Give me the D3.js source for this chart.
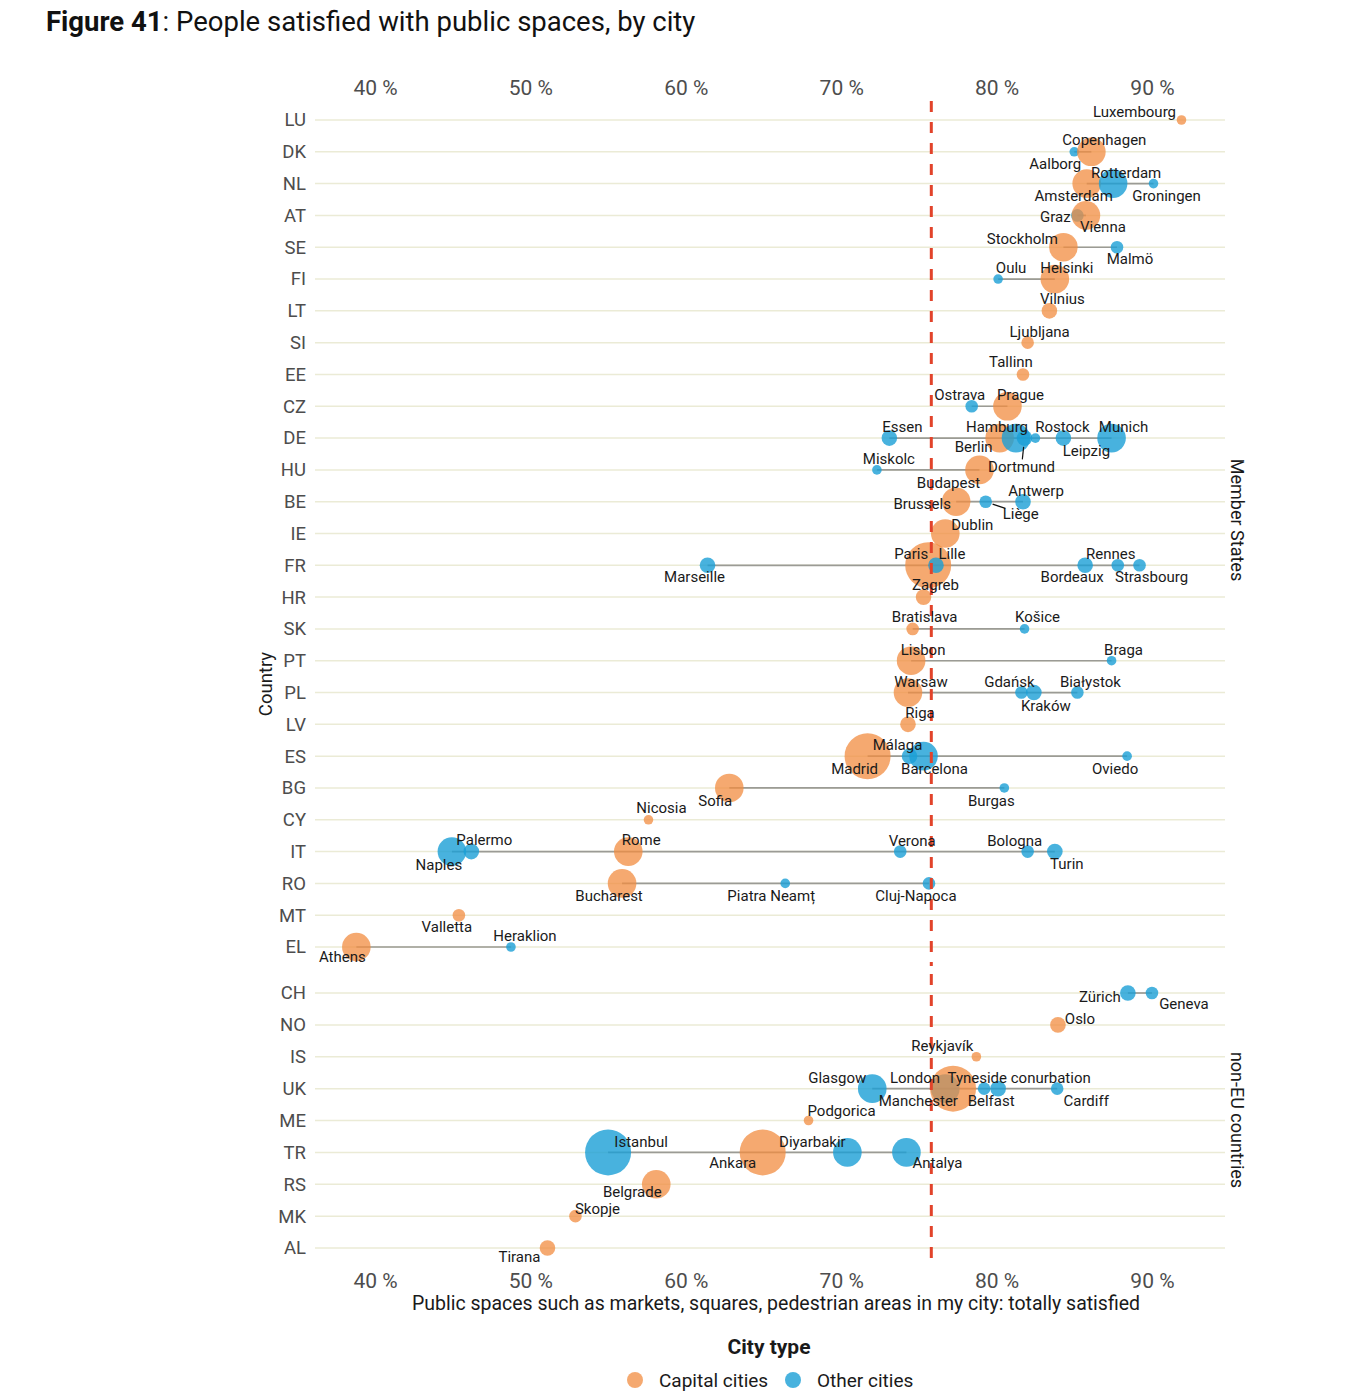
<!DOCTYPE html>
<html><head><meta charset="utf-8">
<script src="https://cdn.jsdelivr.net/npm/d3@7"></script>
<style>
body{margin:0;background:#fff;}
svg{display:block;font-family:Roboto,"Noto Sans",sans-serif;}
</style>
</head><body>
<svg id="chart" width="1368" height="1400"></svg>
<script>
// ---------------- DATA ----------------
const memberStates = ["LU","DK","NL","AT","SE","FI","LT","SI","EE","CZ","DE","HU","BE","IE","FR","HR","SK","PT","PL","LV","ES","BG","CY","IT","RO","MT","EL"];
const nonEuCountries = ["CH","NO","IS","UK","ME","TR","RS","MK","AL"];
const xTicks = [40,50,60,70,80,90];
const referenceValue = 75.8;
const cityTypes = ["Capital cities","Other cities"];

const cityNames = ["Luxembourg","Copenhagen","Aalborg","Amsterdam","Rotterdam","Groningen","Vienna","Graz","Stockholm","Malmö","Helsinki","Oulu","Vilnius","Ljubljana","Tallinn","Prague","Ostrava","Berlin","Essen","Hamburg","Dortmund","Rostock","Leipzig","Munich","Budapest","Miskolc","Brussels","Liège","Antwerp","Dublin","Paris","Lille","Marseille","Bordeaux","Rennes","Strasbourg","Zagreb","Bratislava","Košice","Lisbon","Braga","Warsaw","Gdańsk","Kraków","Białystok","Riga","Madrid","Málaga","Barcelona","Oviedo","Sofia","Burgas","Nicosia","Rome","Naples","Palermo","Verona","Bologna","Turin","Bucharest","Piatra Neamț","Cluj-Napoca","Valletta","Athens","Heraklion","Zürich","Geneva","Oslo","Reykjavík","London","Glasgow","Manchester","Belfast","Tyneside conurbation","Cardiff","Podgorica","Ankara","Istanbul","Diyarbakir","Antalya","Belgrade","Skopje","Tirana"];
const cityCountry = ["LU","DK","DK","NL","NL","NL","AT","AT","SE","SE","FI","FI","LT","SI","EE","CZ","CZ","DE","DE","DE","DE","DE","DE","DE","HU","HU","BE","BE","BE","IE","FR","FR","FR","FR","FR","FR","HR","SK","SK","PT","PT","PL","PL","PL","PL","LV","ES","ES","ES","ES","BG","BG","CY","IT","IT","IT","IT","IT","IT","RO","RO","RO","MT","EL","EL","CH","CH","NO","IS","UK","UK","UK","UK","UK","UK","ME","TR","TR","TR","TR","RS","MK","AL"];
const cityIsCapital = [1,1,0,1,0,0,1,0,1,0,1,0,1,1,1,1,0,1,0,0,0,0,0,0,1,0,1,0,0,1,1,0,0,0,0,0,1,1,0,1,0,1,0,0,0,1,1,0,0,0,1,0,1,1,0,0,0,0,0,1,0,0,1,1,0,0,0,1,1,1,0,0,0,0,0,1,1,0,0,0,1,1,1];
const citySatisfied = [91.9,86.1,85.0,85.8,87.5,90.1,85.75,85.2,84.3,87.75,83.75,80.1,83.4,82.0,81.7,80.7,78.4,80.2,73.1,81.25,81.8,82.5,84.3,87.4,78.9,72.3,77.4,79.3,81.7,76.7,75.6,76.1,61.4,85.7,87.8,89.2,75.3,74.6,81.8,74.5,87.4,74.3,81.6,82.4,85.2,74.3,71.7,74.4,75.3,88.4,62.8,80.5,57.6,56.3,44.95,46.2,73.8,82.0,83.75,55.9,66.4,75.65,45.4,38.8,48.75,88.45,90.0,83.95,78.7,77.2,72.0,76.7,79.2,80.1,83.9,67.9,64.95,55.0,70.4,74.2,58.1,52.9,51.1];
// city size class (1 = smallest ... 5 = largest)
const citySizeClass = [1,4,1,4,4,1,4,2,4,2,4,1,3,2,2,4,2,4,3,4,3,1,3,4,4,1,4,2,3,4,5,3,3,3,2,2,3,2,1,4,1,4,2,3,2,3,5,3,4,1,4,1,1,4,4,3,2,2,3,4,1,2,2,4,1,3,2,3,1,5,4,4,2,3,2,1,5,5,4,4,4,2,3];

// ---------------- LAYOUT (label placement nudges, px) ----------------
const labelNudge = {
 "Luxembourg":[-47,-8],"Copenhagen":[13,-12],"Aalborg":[-19,12],"Rotterdam":[13,-11],"Amsterdam":[-13,12],"Groningen":[13,12],
 "Graz":[-22,2],"Vienna":[17,12],"Stockholm":[-41,-8],"Malmö":[13,12],"Oulu":[13,-11],"Helsinki":[12,-11],"Vilnius":[13,-12],
 "Ljubljana":[12,-11],"Tallinn":[-12,-12],"Ostrava":[-12,-11],"Prague":[13,-11],"Essen":[13,-11],"Hamburg":[-19,-11],
 "Rostock":[27,-11],"Munich":[12,-11],"Berlin":[-26,9],"Leipzig":[23,13],"Dortmund":[-3,29],"Miskolc":[12,-11],
 "Budapest":[-31,13],"Brussels":[-34,2],"Antwerp":[13,-11],"Liège":[35,12],"Dublin":[27,-9],"Paris":[-17,-11],"Lille":[16,-11],
 "Marseille":[-13,12],"Bordeaux":[-13,12],"Rennes":[-7,-11],"Strasbourg":[12,12],"Zagreb":[12,-12],"Bratislava":[12,-12],
 "Košice":[13,-12],"Lisbon":[12,-11],"Braga":[12,-11],"Warsaw":[13,-11],"Gdańsk":[-12,-11],"Białystok":[13,-11],"Kraków":[12,13],
 "Riga":[12,-11],"Málaga":[-12,-11],"Madrid":[-13,13],"Barcelona":[11,13],"Oviedo":[-12,13],"Burgas":[-13,13],"Sofia":[-14,13],
 "Nicosia":[13,-12],"Palermo":[13,-12],"Naples":[-13,13],"Rome":[13,-12],"Bucharest":[-13,13],"Piatra Neamț":[-14,13],
 "Cluj-Napoca":[-13,13],"Verona":[12,-11],"Bologna":[-13,-11],"Turin":[12,12],"Valletta":[-12,12],"Heraklion":[14,-11],
 "Athens":[-14,10],"Zürich":[-28,4],"Geneva":[32,11],"Oslo":[22,-6],"Reykjavík":[-34,-11],"Glasgow":[-35,-11],"London":[-38,-11],
 "Tyneside conurbation":[21,-11],"Manchester":[-27,12],"Belfast":[7,12],"Cardiff":[29,12],"Podgorica":[33,-10],"Istanbul":[33,-10],
 "Ankara":[-30,11],"Diyarbakir":[-35,-10],"Antalya":[31,11],"Belgrade":[-24,8],"Skopje":[22,-7],"Tirana":[-28,9]
};
const leaderLabels = ["Dortmund","Liège"];

// ---------------- CHART ----------------
const svg = d3.select("#chart");
const cities = cityNames.map((n,i)=>({name:n,country:cityCountry[i],type:cityIsCapital[i]?cityTypes[0]:cityTypes[1],value:citySatisfied[i],size:citySizeClass[i]}));

const x = d3.scaleLinear().domain([36.14,94.7]).range([315,1225]);
const r = d3.scaleOrdinal().domain([1,2,3,4,5]).range([4.8,6.3,7.8,14.3,23]);
const color = d3.scaleOrdinal().domain(cityTypes).range(["#f28c40","#1a9fd6"]);
const opacity = d3.scaleOrdinal().domain(cityTypes).range([0.75,0.8]);

const panels = [
 {label:"Member States", cats:memberStates, top:101, bottom:966, first:120, last:947, stripY:520},
 {label:"non-EU countries", cats:nonEuCountries, top:974, bottom:1267, first:993, last:1248, stripY:1120}
];
panels.forEach(p=>{ p.y = d3.scalePoint().domain(p.cats).range([p.first,p.last]); });
const yOf = {};
panels.forEach(p=>p.cats.forEach(c=>yOf[c]=p.y(c)));

// Title
const title = svg.append("text").attr("x",46).attr("y",31).attr("font-size",27.5).attr("fill","#111");
title.append("tspan").attr("font-weight","bold").text("Figure 41");
title.append("tspan").text(": People satisfied with public spaces, by city");

// Panels: grid + y axis + strip labels
panels.forEach(p=>{
  const g = svg.append("g");
  g.selectAll("line.grid").data(p.cats).join("line")
    .attr("x1",x.range()[0]).attr("x2",x.range()[1])
    .attr("y1",d=>p.y(d)).attr("y2",d=>p.y(d))
    .attr("stroke","#ebebd6").attr("stroke-width",1.5);
  const ax = svg.append("g").attr("transform","translate(315,0)")
    .call(d3.axisLeft(p.y).tickSize(0).tickPadding(9));
  ax.select(".domain").remove();
  ax.selectAll("text").attr("font-size",18.5).attr("fill","#4d4d4d").style("font-family","Roboto");
  svg.append("text").attr("transform",`translate(1237,${p.stripY}) rotate(90)`)
    .attr("text-anchor","middle").attr("dominant-baseline","central")
    .attr("font-size",18).attr("fill","#1a1a1a").text(p.label);
});

// X axes top and bottom
const axTop = svg.append("g").attr("transform","translate(0,101)")
  .call(d3.axisTop(x).tickValues(xTicks).tickFormat(d=>d+" %").tickSize(0).tickPadding(6));
const axBot = svg.append("g").attr("transform","translate(0,1267)")
  .call(d3.axisBottom(x).tickValues(xTicks).tickFormat(d=>d+" %").tickSize(0).tickPadding(6));
[axTop,axBot].forEach(a=>{a.select(".domain").remove(); a.selectAll("text").attr("font-size",21).attr("fill","#4d4d4d").style("font-family","Roboto");});

// Axis titles
svg.append("text").attr("x",776).attr("y",1310).attr("text-anchor","middle").attr("font-size",19.5).attr("fill","#1a1a1a")
  .text("Public spaces such as markets, squares, pedestrian areas in my city: totally satisfied");
svg.append("text").attr("transform","translate(266,684) rotate(-90)").attr("text-anchor","middle").attr("dominant-baseline","central")
  .attr("font-size",18.5).attr("fill","#1a1a1a").text("Country");

// Range lines per country
const byCountry = d3.groups(cities,d=>d.country).filter(([c,v])=>v.length>1);
svg.append("g").selectAll("line").data(byCountry).join("line")
  .attr("x1",d=>x(d3.min(d[1],e=>e.value))).attr("x2",d=>x(d3.max(d[1],e=>e.value)))
  .attr("y1",d=>yOf[d[0]]).attr("y2",d=>yOf[d[0]])
  .attr("stroke","#9b9b95").attr("stroke-width",1.7);

// Circles
const sorted = cities.slice().sort((a,b)=>a.value-b.value);
svg.append("g").selectAll("circle").data(sorted).join("circle")
  .attr("cx",d=>x(d.value)).attr("cy",d=>yOf[d.country]).attr("r",d=>r(d.size))
  .attr("fill",d=>color(d.type)).attr("fill-opacity",d=>opacity(d.type));

// Reference dashed line
panels.forEach(p=>{
  svg.append("line").attr("x1",x(referenceValue)).attr("x2",x(referenceValue))
    .attr("y1",p.top).attr("y2",p.bottom)
    .attr("stroke","#e2432a").attr("stroke-width",3).attr("stroke-dasharray","11,10");
});

// Labels
const lg = svg.append("g");
cities.forEach(c=>{
  const nd = labelNudge[c.name] || [12,-11];
  const px = x(c.value), py = yOf[c.country];
  const lx = px+nd[0], ly = py+nd[1];
  const t = lg.append("text").attr("x",lx).attr("y",ly).attr("text-anchor","middle").attr("dominant-baseline","central")
    .attr("font-size",15).attr("fill","#1a1a1a").text(c.name);
  if (leaderLabels.includes(c.name)) {
    const bb = t.node().getBBox();
    const dx = lx-px, dy = ly-py, len = Math.hypot(dx,dy), ux = dx/len, uy = dy/len;
    const rr = r(c.size)+1;
    const k = Math.min(Math.abs(bb.width/2/(ux||1e-6)), Math.abs(bb.height/2/(uy||1e-6)))*0.85;
    lg.append("line").attr("x1",px+ux*rr).attr("y1",py+uy*rr).attr("x2",lx-ux*k).attr("y2",ly-uy*k)
      .attr("stroke","#111").attr("stroke-width",1.2);
  }
});

// Legend
svg.append("text").attr("x",769).attr("y",1354).attr("text-anchor","middle").attr("font-size",21).attr("font-weight","bold").attr("fill","#1a1a1a").text("City type");
const legendX = {"Capital cities":635,"Other cities":793};
cityTypes.forEach(tp=>{
  svg.append("circle").attr("cx",legendX[tp]).attr("cy",1380).attr("r",8).attr("fill",color(tp)).attr("fill-opacity",opacity(tp));
  svg.append("text").attr("x",legendX[tp]+24).attr("y",1380).attr("dominant-baseline","central").attr("font-size",19).attr("fill","#1a1a1a").text(tp);
});
</script>
</body></html>
